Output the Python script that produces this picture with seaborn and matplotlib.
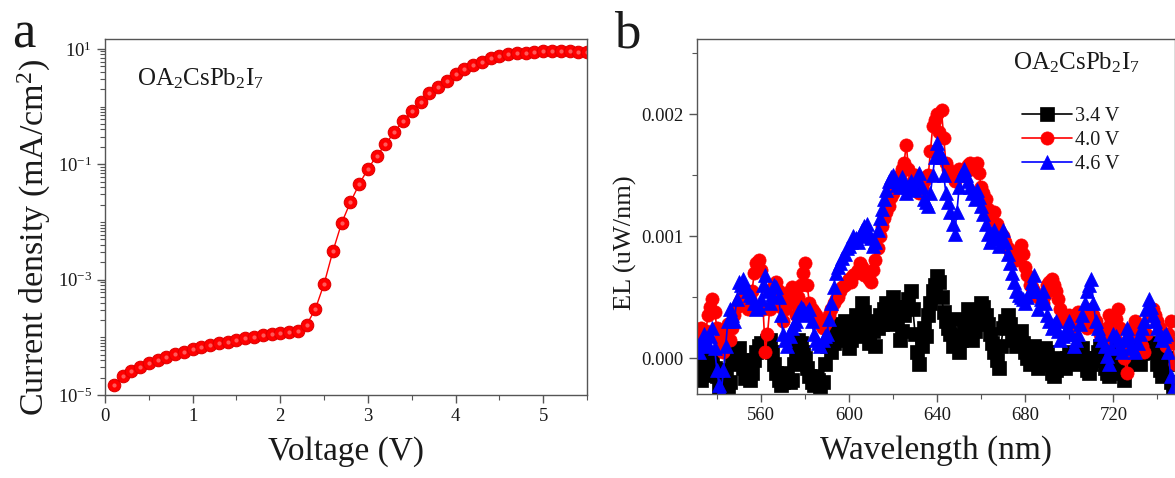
import numpy as np
import pandas as pd
import matplotlib
matplotlib.use("Agg")
import matplotlib.pyplot as plt
import matplotlib.ticker as mticker
import seaborn as sns

# ---- panel a: J-V curve ----
voltage = [0.1, 0.2, 0.3, 0.4, 0.5, 0.6, 0.7, 0.8, 0.9, 1.0,
           1.1, 1.2, 1.3, 1.4, 1.5, 1.6, 1.7, 1.8, 1.9, 2.0,
           2.1, 2.2, 2.3, 2.4, 2.5, 2.6, 2.7, 2.8, 2.9, 3.0,
           3.1, 3.2, 3.3, 3.4, 3.5, 3.6, 3.7, 3.8, 3.9, 4.0,
           4.1, 4.2, 4.3, 4.4, 4.5, 4.6, 4.7, 4.8, 4.9, 5.0,
           5.1, 5.2, 5.3, 5.4, 5.5]
current_density = [1.5e-5, 2.1e-5, 2.6e-5, 3.1e-5, 3.6e-5, 4.0e-5, 4.6e-5, 5.1e-5, 5.6e-5, 6.2e-5,
                   6.8e-5, 7.4e-5, 7.9e-5, 8.4e-5, 9.0e-5, 9.6e-5, 1.02e-4, 1.09e-4, 1.14e-4, 1.2e-4,
                   1.24e-4, 1.3e-4, 1.65e-4, 3.1e-4, 8.5e-4, 3.1e-3, 9.6e-3, 2.2e-2, 4.5e-2, 8.3e-2,
                   0.14, 0.22, 0.36, 0.56, 0.85, 1.22, 1.7, 2.2, 2.8, 3.6,
                   4.5, 5.3, 6.0, 6.9, 7.6, 8.1, 8.4, 8.6, 8.9, 9.0,
                   9.0, 9.0, 9.0, 8.9, 8.9]

# ---- panel b: EL spectra, 530-748 nm (values in 1e-3 uW/nm) ----
wavelength = list(range(530, 749))
el_34 = [-0.12, -0.08, -0.15, -0.18, -0.05, -0.02, -0.10, -0.14, -0.02, -0.08,
         -0.15, -0.25, -0.22, -0.12, -0.10, -0.28, -0.20, -0.05, 0.00, 0.06,
         0.08, -0.02, -0.08, -0.16, -0.15, -0.18, -0.12, -0.02, 0.05, 0.10,
         0.12, 0.08, 0.10, 0.14, 0.15, 0.05, -0.05, -0.12, -0.18, -0.22,
         -0.20, -0.15, -0.12, -0.20, -0.18, -0.05, 0.05, 0.15, 0.12, 0.05,
         0.00, -0.08, -0.15, -0.20, -0.22, -0.15, -0.18, -0.24, -0.20, -0.05,
         0.10, 0.15, 0.05, 0.12, 0.22, 0.28, 0.15, 0.20, 0.30, 0.18,
         0.08, 0.15, 0.25, 0.35, 0.18, 0.30, 0.45, 0.38, 0.20, 0.12,
         0.30, 0.22, 0.10, 0.25, 0.35, 0.28, 0.40, 0.45, 0.28, 0.35,
         0.50, 0.42, 0.30, 0.15, 0.22, 0.35, 0.42, 0.48, 0.55, 0.40,
         0.20, 0.05, -0.05, 0.10, 0.25, 0.18, 0.35, 0.45, 0.55, 0.60,
         0.67, 0.62, 0.50, 0.38, 0.30, 0.25, 0.20, 0.10, 0.32, 0.18,
         0.05, 0.15, 0.22, 0.30, 0.40, 0.28, 0.15, 0.22, 0.30, 0.38,
         0.45, 0.42, 0.35, 0.28, 0.20, 0.12, 0.05, -0.02, -0.08, 0.10,
         0.25, 0.30, 0.35, 0.28, 0.20, 0.15, 0.10, 0.18, 0.22, 0.12,
         0.05, 0.00, -0.05, 0.05, 0.10, 0.02, -0.08, -0.04, 0.02, 0.08,
         0.05, -0.05, -0.12, -0.15, -0.10, -0.05, 0.00, -0.04, -0.08, 0.00,
         0.05, 0.02, -0.05, -0.02, 0.02, 0.05, 0.08, 0.00, -0.10, -0.12,
         -0.05, -0.02, 0.00, 0.05, 0.10, 0.02, -0.08, -0.12, -0.15, -0.05,
         0.05, 0.08, 0.02, -0.05, -0.12, -0.18, -0.05, 0.02, 0.08, 0.04,
         0.00, -0.02, -0.05, 0.04, 0.10, 0.08, 0.05, 0.10, 0.12, 0.05,
         -0.05, -0.10, -0.15, -0.08, 0.00, -0.05, -0.20, -0.28, -0.25]
el_40 = [0.15, 0.10, 0.20, 0.25, 0.12, 0.22, 0.35, 0.42, 0.48, 0.38,
         0.25, 0.15, 0.10, 0.05, 0.20, 0.28, 0.15, 0.25, 0.35, 0.42,
         0.45, 0.48, 0.50, 0.45, 0.40, 0.48, 0.55, 0.70, 0.78, 0.80,
         0.72, 0.40, 0.05, 0.20, 0.40, 0.55, 0.60, 0.62, 0.55, 0.42,
         0.30, 0.40, 0.50, 0.55, 0.58, 0.45, 0.35, 0.50, 0.60, 0.70,
         0.78, 0.60, 0.45, 0.40, 0.38, 0.35, 0.32, 0.28, 0.25, 0.28,
         0.30, 0.35, 0.40, 0.45, 0.48, 0.50, 0.55, 0.58, 0.60, 0.62,
         0.65, 0.62, 0.68, 0.70, 0.72, 0.78, 0.75, 0.68, 0.70, 0.65,
         0.62, 0.72, 0.80, 0.90, 1.00, 1.08, 1.15, 1.20, 1.25, 1.32,
         1.35, 1.40, 1.45, 1.50, 1.55, 1.60, 1.75, 1.55, 1.40, 1.45,
         1.50, 1.42, 1.35, 1.40, 1.45, 1.48, 1.50, 1.70, 1.90, 1.95,
         2.00, 1.85, 2.03, 1.80, 1.60, 1.55, 1.50, 1.48, 1.45, 1.50,
         1.55, 1.52, 1.50, 1.55, 1.58, 1.60, 1.55, 1.58, 1.60, 1.52,
         1.40, 1.35, 1.30, 1.22, 1.15, 1.18, 1.20, 1.10, 1.05, 1.02,
         1.00, 0.95, 0.90, 0.88, 0.85, 0.82, 0.80, 0.85, 0.93, 0.85,
         0.75, 0.68, 0.60, 0.58, 0.55, 0.52, 0.50, 0.48, 0.45, 0.52,
         0.60, 0.62, 0.65, 0.60, 0.55, 0.48, 0.40, 0.35, 0.30, 0.32,
         0.35, 0.28, 0.20, 0.30, 0.38, 0.35, 0.30, 0.28, 0.25, 0.32,
         0.40, 0.35, 0.30, 0.25, 0.20, 0.18, 0.15, 0.25, 0.35, 0.30,
         0.25, 0.32, 0.40, 0.25, 0.10, 0.00, -0.12, 0.05, 0.20, 0.25,
         0.30, 0.22, 0.15, 0.10, 0.05, 0.20, 0.35, 0.38, 0.40, 0.35,
         0.30, 0.25, 0.20, 0.15, 0.10, 0.20, 0.30, 0.12, -0.05]
el_46 = [0.15, 0.10, 0.05, 0.12, 0.20, 0.15, 0.10, 0.18, 0.25, 0.08,
         -0.10, -0.22, -0.28, -0.10, 0.10, 0.30, 0.40, 0.35, 0.30, 0.48,
         0.62, 0.60, 0.65, 0.58, 0.55, 0.52, 0.50, 0.45, 0.40, 0.42,
         0.48, 0.60, 0.68, 0.55, 0.45, 0.52, 0.60, 0.58, 0.50, 0.35,
         0.20, 0.15, 0.10, 0.18, 0.25, 0.28, 0.30, 0.38, 0.42, 0.40,
         0.35, 0.38, 0.40, 0.30, 0.20, 0.15, 0.12, 0.10, 0.15, 0.18,
         0.20, 0.32, 0.45, 0.58, 0.70, 0.75, 0.78, 0.82, 0.85, 0.90,
         0.92, 0.95, 1.00, 0.98, 0.95, 1.00, 1.05, 1.08, 1.10, 1.02,
         0.98, 0.92, 0.95, 1.05, 1.15, 1.22, 1.30, 1.38, 1.45, 1.48,
         1.50, 1.45, 1.42, 1.40, 1.48, 1.42, 1.35, 1.40, 1.45, 1.40,
         1.38, 1.45, 1.52, 1.40, 1.30, 1.28, 1.25, 1.35, 1.50, 1.65,
         1.76, 1.70, 1.65, 1.50, 1.35, 1.28, 1.20, 1.10, 1.02, 1.20,
         1.40, 1.50, 1.55, 1.50, 1.45, 1.40, 1.35, 1.30, 1.38, 1.32,
         1.25, 1.18, 1.10, 1.02, 0.95, 0.98, 1.05, 0.98, 0.92, 0.98,
         1.05, 0.95, 0.85, 0.78, 0.70, 0.62, 0.55, 0.52, 0.50, 0.48,
         0.45, 0.50, 0.55, 0.62, 0.68, 0.55, 0.40, 0.48, 0.55, 0.45,
         0.35, 0.30, 0.25, 0.28, 0.30, 0.22, 0.15, 0.18, 0.20, 0.25,
         0.30, 0.20, 0.10, 0.15, 0.20, 0.28, 0.35, 0.45, 0.55, 0.60,
         0.65, 0.45, 0.30, 0.25, 0.20, 0.15, 0.10, 0.02, -0.05, 0.08,
         0.20, 0.18, 0.15, 0.10, 0.05, 0.15, 0.25, 0.18, 0.10, 0.08,
         0.05, 0.12, 0.20, 0.25, 0.30, 0.40, 0.48, 0.42, 0.35, 0.30,
         0.25, 0.20, 0.15, 0.18, 0.20, 0.05, -0.15, -0.25, -0.30]
series_labels = ["3.4 V", "4.0 V", "4.6 V"]
series_colors = ["#000000", "#ff0000", "#0000ff"]
series_markers = ["s", "o", "^"]

sns.set_theme(style="ticks")
plt.rcParams["font.family"] = ["Liberation Serif", "DejaVu Serif"]
plt.rcParams["mathtext.fontset"] = "custom"
plt.rcParams["mathtext.rm"] = "Liberation Serif"
plt.rcParams["mathtext.it"] = "Liberation Serif:italic"
plt.rcParams["text.color"] = "#1a1a1a"
plt.rcParams["axes.labelcolor"] = "#1a1a1a"
plt.rcParams["xtick.color"] = "#555555"
plt.rcParams["ytick.color"] = "#555555"
plt.rcParams["xtick.labelcolor"] = "#1a1a1a"
plt.rcParams["ytick.labelcolor"] = "#1a1a1a"

fig = plt.figure(figsize=(11.75, 4.78), dpi=100)
ax1 = fig.add_axes([0.0894, 0.1736, 0.4102, 0.7448])
ax2 = fig.add_axes([0.5932, 0.1757, 0.4068, 0.7427])

formula = r"OA$_\mathregular{2}$CsPb$_\mathregular{2}$I$_\mathregular{7}$"

# panel a
sns.lineplot(x=voltage, y=current_density, ax=ax1, color="#ff0000", lw=1.0,
             marker="o", markersize=9, markeredgecolor="#e00000",
             markeredgewidth=0.8, estimator=None, sort=False)
ax1.plot(voltage, current_density, ls="none", marker="o", markersize=3,
         color="#ff8080", markeredgewidth=0, alpha=0.7)
ax1.set_yscale("log")
ax1.set_xlim(0, 5.5)
ax1.set_ylim(1e-5, 10 ** 1.17)
ax1.yaxis.set_major_locator(mticker.FixedLocator([1e-5, 1e-3, 1e-1, 1e1]))
ax1.yaxis.set_major_formatter(mticker.FixedFormatter(
    [r"10$^\mathregular{-5}$", r"10$^\mathregular{-3}$", r"10$^\mathregular{-1}$", r"10$^\mathregular{1}$"]))
ax1.yaxis.set_minor_locator(mticker.LogLocator(base=10, subs=np.arange(1, 10), numticks=30))
ax1.yaxis.set_minor_formatter(mticker.NullFormatter())
ax1.xaxis.set_major_locator(mticker.MultipleLocator(1))
ax1.xaxis.set_minor_locator(mticker.MultipleLocator(0.5))
ax1.set_xlabel("Voltage (V)", fontsize=24, labelpad=8)
ax1.set_ylabel("Current density (mA/cm$^\\mathregular{2}$)", fontsize=24.5)
ax1.yaxis.set_label_coords(-0.108, 0.444)
ax1.text(0.066, 0.871, formula, transform=ax1.transAxes, fontsize=18,
         va="baseline", ha="left")

# panel b
for vals, lab, col, mk in zip([el_34, el_40, el_46], series_labels,
                              series_colors, series_markers):
    df = pd.DataFrame({"wl": wavelength, "el": np.array(vals) * 1e-3})
    sns.lineplot(data=df, x="wl", y="el", ax=ax2, color=col, lw=1.2,
                 marker=mk, markersize=9.5 if mk != "^" else 10.5,
                 markeredgecolor=col, markeredgewidth=0.5,
                 estimator=None, sort=False, label=lab)
ax2.set_xlim(531, 748)
ax2.set_ylim(-0.000295, 0.002615)
ax2.xaxis.set_major_locator(mticker.MultipleLocator(40))
ax2.xaxis.set_minor_locator(mticker.MultipleLocator(20))
ax2.yaxis.set_major_locator(mticker.MultipleLocator(0.001))
ax2.yaxis.set_minor_locator(mticker.MultipleLocator(0.0005))
ax2.yaxis.set_major_formatter(mticker.FormatStrFormatter("%.3f"))
ax2.set_xlabel("Wavelength (nm)", fontsize=24, labelpad=8)
ax2.set_ylabel("EL (uW/nm)", fontsize=19)
ax2.yaxis.set_label_coords(-0.125, 0.425)
ax2.text(0.661, 0.915, formula, transform=ax2.transAxes, fontsize=18,
         va="baseline", ha="left")
leg = ax2.legend(loc="upper left", bbox_to_anchor=(0.68, 0.81), frameon=False,
                 fontsize=14.5, handlelength=2.5, handletextpad=0.15,
                 labelspacing=0.25, borderpad=0, borderaxespad=0)

for ax in (ax1, ax2):
    for s in ax.spines.values():
        s.set_visible(True)
        s.set_color("#555555")
        s.set_linewidth(1.0)
    ax.tick_params(which="major", direction="out", length=6, width=1.0,
                   labelsize=13.5, top=False, right=False)
    ax.tick_params(which="minor", direction="out", length=3.5, width=0.8,
                   top=False, right=False)

fig.text(0.010, 0.9, "a", fontsize=38, va="baseline", ha="left")
fig.text(0.523, 0.9, "b", fontsize=38, va="baseline", ha="left")

fig.savefig("out.png", dpi=100)
